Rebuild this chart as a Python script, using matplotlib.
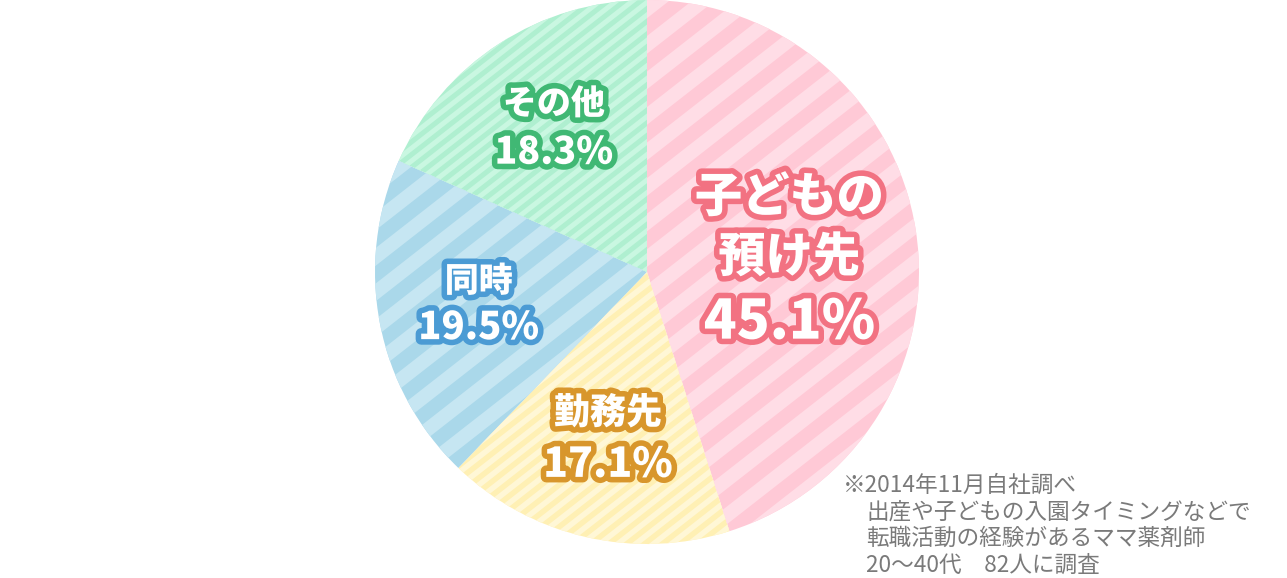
import numpy as np
import matplotlib.pyplot as plt
import matplotlib.patheffects as pe
from matplotlib.collections import PolyCollection

# Data
labels = ['子どもの\n預け先', '勤務先', '同時', 'その他']
values = [45.1, 17.1, 19.5, 18.3]
base_colors = ['#ffc9d6', '#fff0b4', '#aad8ea', '#afefd0']
stripe_colors = ['#ffdde6', '#fff7d6', '#c6e6f2', '#c9f7e1']
edge_colors = ['#f27282', '#d8962c', '#4b9bd4', '#40b874']
stripe_period = [28, 11, 28, 10]
name_size = [34, 26, 24.5, 24.5]
pct_size = [39, 29.5, 27.5, 27]
label_dist = [0.53, 0.63, 0.63, 0.63]
label_dy = [-25, 0, 0, 0]
label_gap = [95, 52, 47, 49]
note = ['※2014年11月自社調べ',
        '出産や子どもの入園タイミングなどで',
        '転職活動の経験があるママ薬剤師',
        '20～40代　82人に調査']

W, H = 1287, 578
cx, cy, R = 647, H - 272, 272
jp = ['Noto Sans CJK JP', 'DejaVu Sans']

fig = plt.figure(figsize=(W / 100, H / 100), dpi=100)
ax = fig.add_axes([0, 0, 1, 1])

wedges, _ = ax.pie(values, colors=base_colors, startangle=90, counterclock=False,
                   center=(cx, cy), radius=R, wedgeprops=dict(linewidth=0))

# diagonal stripes clipped to each wedge
theta = np.deg2rad(38)
d = np.array([np.cos(theta), np.sin(theta)])
n = np.array([-np.sin(theta), np.cos(theta)])
for w, col, per in zip(wedges, stripe_colors, stripe_period):
    polys = []
    for s in np.arange(-1200, 1200, per):
        p0 = np.array([cx, cy]) + n * s
        p1 = p0 + n * per / 2
        polys.append([p0 - d * 1500, p0 + d * 1500, p1 + d * 1500, p1 - d * 1500])
    pc = PolyCollection(polys, facecolors=col, edgecolors='none')
    ax.add_collection(pc)
    pc.set_clip_path(w)

# labels
for i, w in enumerate(wedges):
    ang = np.deg2rad((w.theta1 + w.theta2) / 2)
    x = cx + R * label_dist[i] * np.cos(ang)
    y = cy + R * label_dist[i] * np.sin(ang) + label_dy[i]
    fx = [pe.Stroke(linewidth=8, foreground=edge_colors[i], joinstyle='round'), pe.Normal()]
    t1 = ax.text(x, y + label_gap[i] / 2, labels[i], ha='center', va='center',
                 fontsize=name_size[i], color='white', fontweight='heavy', family=jp,
                 linespacing=1.3)
    t2 = ax.text(x, y - label_gap[i] / 2, f'{values[i]}%', ha='center', va='center',
                 fontsize=pct_size[i], color='white', fontweight='heavy', family=jp)
    t1.set_path_effects(fx)
    t2.set_path_effects(fx)

# footnote
for i, line in enumerate(note):
    x = 843 if i == 0 else 866
    ax.text(x, H - (485 + i * 26.7), line, ha='left', va='center', fontsize=16.3,
            color='#7a7a7a', family=jp)

ax.set_xlim(0, W)
ax.set_ylim(0, H)
ax.set_aspect('equal')
ax.axis('off')

plt.savefig('out.png', dpi=100)
